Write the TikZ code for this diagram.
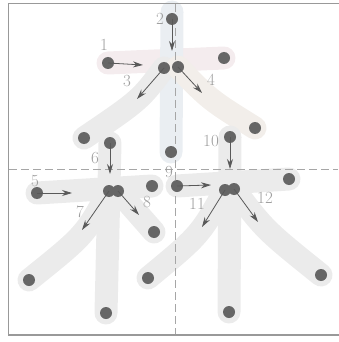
\documentclass[tikz,border=0pt]{standalone}
\usepackage{xcolor}
\usepackage{tikz}
\usetikzlibrary{arrows.meta, backgrounds, positioning}

\definecolor{inkpale}{HTML}{EBEBEB}
\definecolor{inkpink}{HTML}{F4ECEE}
\definecolor{inkblue}{HTML}{EAEEF2}
\definecolor{inkpeach}{HTML}{F2EEEA}

\begin{document}
\begin{tikzpicture}[x=1pt, y=-1pt,
        stroke/.style={line width=23pt, line cap=round, line join=round, draw=inkpale},
        dot/.style={circle, fill=black!60, inner sep=0pt, minimum size=12pt},
        num/.style={text=black!38, inner sep=0pt, font=\fontsize{17}{17}\selectfont},
        dir/.style={-{Stealth[length=10pt, width=6pt]}, draw=black!65, line width=0.8pt},
        guide/.style={draw=black!35, line width=0.8pt, dash pattern=on 8pt off 4pt}]
        \useasboundingbox (0,0) rectangle (338,342);

        % stroke ends
        \node[dot] (s1) at (108,63) {};   \node[dot] (e1) at (224,58) {};
        \node[dot] (s2) at (172,19) {};   \node[dot] (e2) at (171,152) {};
        \node[dot] (s3) at (164,68) {};   \node[dot] (e3) at (84,138) {};
        \node[dot] (s4) at (178,67) {};   \node[dot] (e4) at (255,128) {};
        \node[dot] (s5) at (37,193) {};   \node[dot] (e5) at (152,186) {};
        \node[dot] (s6) at (110,143) {};  \node[dot] (e6) at (106,313) {};
        \node[dot] (s7) at (109,191) {};  \node[dot] (e7) at (29,280) {};
        \node[dot] (s8) at (118,191) {};  \node[dot] (e8) at (154,232) {};
        \node[dot] (s9) at (177,186) {};  \node[dot] (e9) at (289,179) {};
        \node[dot] (s10) at (230,137) {}; \node[dot] (e10) at (229,312) {};
        \node[dot] (s11) at (225,190) {}; \node[dot] (e11) at (148,278) {};
        \node[dot] (s12) at (234,189) {}; \node[dot] (e12) at (321,275) {};

        % the character, behind the dots
        \begin{pgfonlayer}{background}
        \draw[stroke, draw=inkpink] (s1.center) -- (e1.center);
        \draw[stroke, draw=inkblue] (172,12) -- (e2.center);
        \draw[stroke] (s3.center) .. controls (140,100) .. (e3.center);
        \draw[stroke, draw=inkpeach] (s4.center) .. controls (210,100) .. (e4.center);
        \draw[stroke] (s5.center) -- (e5.center);
        \draw[stroke] (s6.center) -- (e6.center);
        \draw[stroke] (s7.center) .. controls (85,235) .. (e7.center);
        \draw[stroke] (s8.center) -- (e8.center);
        \draw[stroke] (s9.center) -- (e9.center);
        \draw[stroke] (s10.center) -- (e10.center);
        \draw[stroke] (s11.center) .. controls (200,235) .. (e11.center);
        \draw[stroke] (s12.center) .. controls (265,230) .. (e12.center);

        % frame and guide lines
        \draw[black!40, line width=1.5pt] (340,3.5) -- (8.5,3.5) -- (8.5,335) -- (340,335);
        \draw[guide] (175,4) -- (175,334);
        \draw[guide] (9,169) -- (338,169);
        \end{pgfonlayer}

        % direction arrows
        \coordinate (a1) at (143,65);
        \coordinate (a2) at (172,51);
        \coordinate (a3) at (137,99);
        \coordinate (a4) at (202,93);
        \coordinate (a5) at (72,193);
        \coordinate (a6) at (110,174);
        \coordinate (a7) at (82,230);
        \coordinate (a8) at (139,215);
        \coordinate (a9) at (211,185);
        \coordinate (a10) at (230,169);
        \coordinate (a11) at (202,227);
        \coordinate (a12) at (258,222);
        \foreach \i in {1,...,12}
            \draw[dir] (s\i.center) -- (a\i);

        % stroke numbers
        \node[num] (n1) at (104,45) {1};
        \node[num] (n2) at (160,19) {2};
        \node[num] (n3) at (127,81) {3};
        \node[num] (n4) at (211,80) {4};
        \node[num] (n5) at (35,181) {5};
        \node[num] (n6) at (95,158) {6};
        \node[num] (n7) at (80,212) {7};
        \node[num] (n8) at (147,202) {8};
        \node[num] (n9) at (169,172) {9};
        \node[num] (n10) at (211,141) {10};
        \node[num] (n11) at (197,204) {11};
        \node[num] (n12) at (265,198) {12};
\end{tikzpicture}
\end{document}
